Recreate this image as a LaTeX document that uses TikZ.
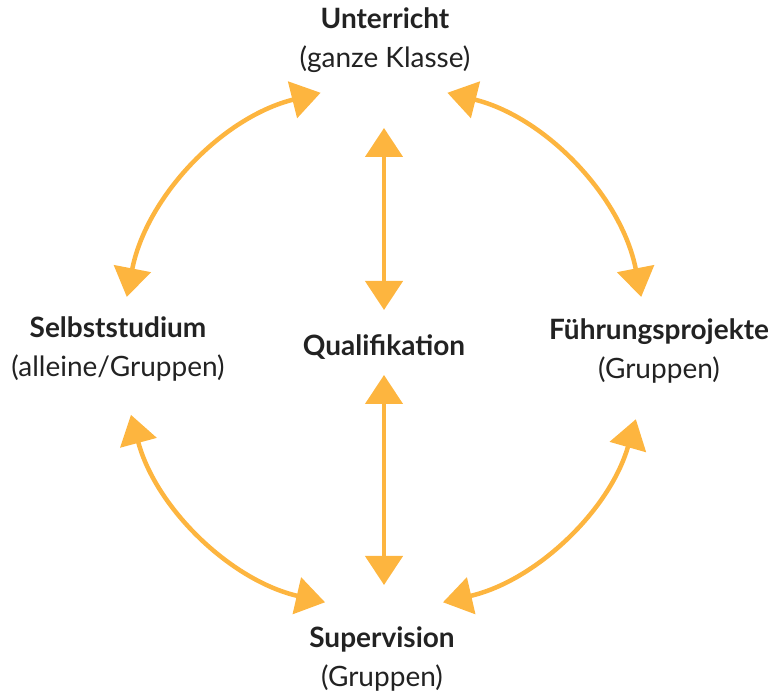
\documentclass[tikz,border=0pt]{standalone}
\usepackage{fontspec}
\setmainfont{Lato}
\usepackage{xcolor}
\usetikzlibrary{arrows.meta}
\definecolor{orange}{RGB}{253,181,63}
\definecolor{ink}{RGB}{34,34,34}

\tikzset{
  label/.style={align=center, text=ink, font=\fontsize{28}{39}\selectfont, inner sep=0pt},
  arr/.style={{Triangle[length=29pt, width=37pt]}-{Triangle[length=29pt, width=37pt]}, line width=4.5pt, orange},
}

\begin{document}
\begin{tikzpicture}[x=1pt, y=1pt]
\useasboundingbox (0,0) rectangle (775,692);

\node[label] (qual) at (384,345) {\textbf{Qualifikation}};
\node[label] (unt) at (385,652) {\textbf{Unterricht}\\(ganze Klasse)};
\node[label] (selbst) at (118,343) {\textbf{Selbststudium}\\(alleine/Gruppen)};
\node[label] (fuehr) at (659,341) {\textbf{Führungsprojekte}\\(Gruppen)};
\node[label] (sup) at (382,33) {\textbf{Supervision}\\(Gruppen)};

% vertical arrows
\draw[arr] ([yshift=37pt]qual.center) -- ([yshift=219pt]qual.center);
\draw[arr] ([yshift=-28pt]qual.center) -- ([yshift=-238pt]qual.center);

% arcs round the centre
\draw[arr] (qual.center) ++(104:262) arc (104:169:262);
\draw[arr] (qual.center) ++(76:262) arc (76:11:262);
\draw[arr] (qual.center) ++(195:262) arc (195:257:262);
\draw[arr] (qual.center) ++(344:262) arc (344:283:262);

\end{tikzpicture}
\end{document}
